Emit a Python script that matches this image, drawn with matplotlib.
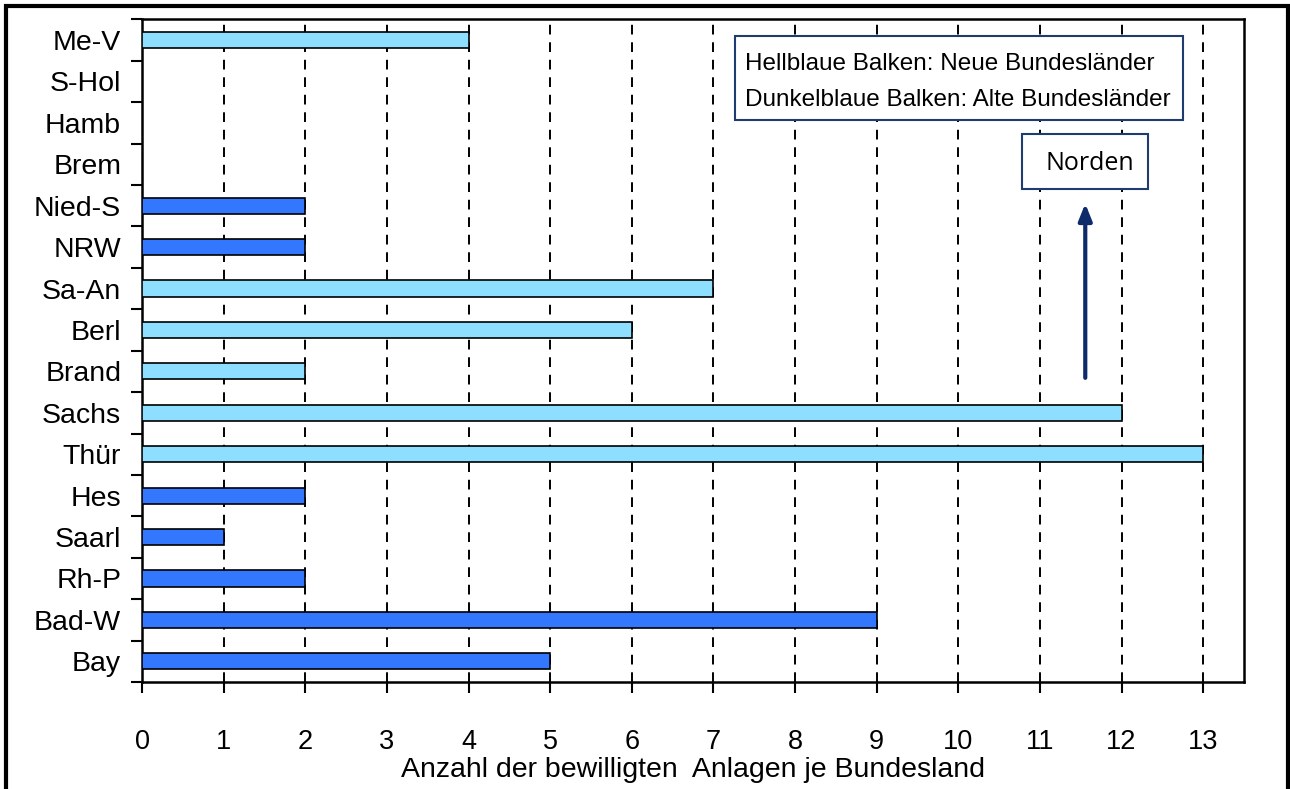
import numpy as np
import matplotlib.pyplot as plt
from matplotlib.patches import Rectangle, FancyArrowPatch

# Bundeslaender, von oben (Norden) nach unten (Sueden)
laender = ['Me-V', 'S-Hol', 'Hamb', 'Brem', 'Nied-S', 'NRW', 'Sa-An', 'Berl',
           'Brand', 'Sachs', 'Thür', 'Hes', 'Saarl', 'Rh-P', 'Bad-W', 'Bay']
anlagen = [4, 0, 0, 0, 2, 2, 7, 6, 2, 12, 13, 2, 1, 2, 9, 5]
neu = [True, False, False, False, False, False, True, True,
       True, True, True, False, False, False, False, False]

hell = '#8EDFFF'
dunkel = '#3377FF'
navy = '#1F3B70'
pfeilfarbe = '#0D2A6B'

plt.rcParams['font.family'] = ['Liberation Sans', 'DejaVu Sans']

fig = plt.figure(figsize=(12.9, 7.89), dpi=100)
ax = fig.add_axes([0.1101, 0.1356, 0.8542, 0.8399])

y = np.arange(len(laender))[::-1]
farben = [hell if n else dunkel for n in neu]
ax.barh(y, anlagen, height=0.39, color=farben, edgecolor='black', linewidth=1.2, zorder=3)

ax.set_xlim(0, 13.5)
ax.set_ylim(-0.5, len(laender) - 0.5)
ax.set_xticks(range(14))
ax.set_yticks(y)
ax.set_yticklabels(laender)
ax.set_yticks(np.arange(-0.5, len(laender), 1), minor=True)
ax.tick_params(axis='y', which='major', length=0, labelsize=20.5, pad=15)
ax.tick_params(axis='y', which='minor', length=8, width=1.5, direction='out')
ax.tick_params(axis='x', length=8, width=1.5, direction='out', labelsize=19.5, pad=26)
for t in range(1, 14):
    ax.axvline(t, color='black', linestyle=(0, (5, 4)), linewidth=1.4, zorder=1)
for s in ax.spines.values():
    s.set_linewidth(1.8)
ax.set_xlabel('Anzahl der bewilligten  Anlagen je Bundesland', fontsize=20.5, labelpad=1)

# Legendenkasten
ax.add_patch(Rectangle((0.538, 0.8474), 0.4066, 0.1269, transform=ax.transAxes,
                       facecolor='white', edgecolor=navy, linewidth=1.5, zorder=5))
ax.text(0.5472, 0.932, 'Hellblaue Balken: Neue Bundesländer', transform=ax.transAxes,
        ha='left', va='center', fontsize=17.5, zorder=6)
ax.text(0.5472, 0.879, 'Dunkelblaue Balken: Alte Bundesländer', transform=ax.transAxes,
        ha='left', va='center', fontsize=17.5, zorder=6)

# Nordpfeil
ax.add_patch(Rectangle((0.7985, 0.7447), 0.1143, 0.0816, transform=ax.transAxes,
                       facecolor='white', edgecolor=navy, linewidth=1.5, zorder=5))
ax.text(0.860, 0.783, 'Norden', transform=ax.transAxes, ha='center', va='center', fontsize=18,
        family=['Open Sans', 'DejaVu Sans'], zorder=6)

pfeil = FancyArrowPatch((0.856, 0.459), (0.856, 0.722), transform=ax.transAxes,
                        arrowstyle='-|>,head_length=10,head_width=4', color=pfeilfarbe,
                        linewidth=3, zorder=5, shrinkA=0, shrinkB=0)
ax.add_patch(pfeil)

# Rahmen um die ganze Grafik
fig.patches.append(Rectangle((0.005, -0.05), 0.9935, 1.043, transform=fig.transFigure,
                             fill=False, edgecolor='black', linewidth=3))

fig.savefig('out.png', dpi=100)
